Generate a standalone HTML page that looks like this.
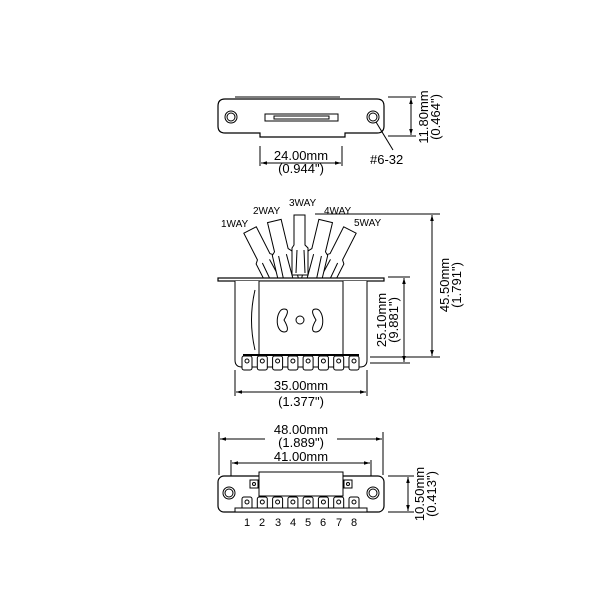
<!DOCTYPE html>
<html><head><style>body{margin:0;background:#fff}svg{display:block}</style></head><body>
<svg width="600" height="600" viewBox="0 0 600 600" xmlns="http://www.w3.org/2000/svg" font-family="Liberation Sans, sans-serif" fill="none" stroke="#000" stroke-width="1">
<defs>
<marker id="a" viewBox="0 0 10 10" refX="10" refY="5" markerWidth="6" markerHeight="6" orient="auto-start-reverse"><path d="M0,2 L10,5 L0,8z" fill="#000" stroke="none"/></marker>
<g id="lev">
<path d="M293,218 h14 v30 l3,3 v40 h-20 v-40 l3,-3z" fill="#fff"/>
<line x1="296" y1="253" x2="295" y2="290"/><line x1="304" y1="253" x2="305" y2="290"/>
</g>
<g id="lev0">
<path d="M294,215 h11 v30 l3,3 v27 h-16 v-27 l2,-3z" fill="#fff"/>
<line x1="297" y1="250" x2="296" y2="273"/><line x1="304" y1="250" x2="305" y2="273"/>
</g>
<g id="term"><rect x="-5" y="0" width="10" height="14" rx="2" fill="#fff"/><circle cx="0" cy="5" r="2"/></g>
</defs>
<!-- TOP VIEW -->
<path d="M225,99 H377 Q384,99 384,106 V126 Q384,133 377,133 H345 V137 H260 V133 H225 Q218,133 218,126 V106 Q218,99 225,99Z" stroke-width="1.2"/>
<line x1="235" y1="97" x2="340" y2="97"/>
<circle cx="231" cy="117" r="6"/><circle cx="231" cy="117" r="4"/>
<circle cx="373" cy="117" r="6"/><circle cx="373" cy="117" r="4"/>
<rect x="265" y="114" width="73" height="7"/><rect x="274" y="116" width="55" height="3"/>
<line x1="376" y1="122" x2="393" y2="150"/>
<text x="370" y="164" font-size="13" fill="#000" stroke="none">#6-32</text>
<line x1="260" y1="146" x2="260" y2="166"/><line x1="342" y1="146" x2="342" y2="166"/>
<line x1="261" y1="163" x2="341" y2="163" marker-start="url(#a)" marker-end="url(#a)"/>
<text x="301" y="160" font-size="13" text-anchor="middle" fill="#000" style="paint-order:stroke" stroke="#fff" stroke-width="3">24.00mm</text>
<text x="301" y="173" font-size="13" text-anchor="middle" fill="#000" stroke="none">(0.944")</text>
<line x1="388" y1="97" x2="416" y2="97"/><line x1="388" y1="136" x2="416" y2="136"/>
<line x1="411" y1="98" x2="411" y2="135" marker-start="url(#a)" marker-end="url(#a)"/>
<text transform="translate(428,117) rotate(-90)" font-size="13" text-anchor="middle" fill="#000" stroke="none">11.80mm</text>
<text transform="translate(440,117) rotate(-90)" font-size="13" text-anchor="middle" fill="#000" stroke="none">(0.464")</text>
<!-- MIDDLE VIEW -->
<use href="#lev" transform="rotate(-27 300 328)"/>
<use href="#lev" transform="rotate(27 300 328)"/>
<use href="#lev" transform="rotate(-13.5 300 328)"/>
<use href="#lev" transform="rotate(13.5 300 328)"/>
<use href="#lev0"/>
<text x="221" y="227" font-size="10" fill="#000" stroke="none">1WAY</text>
<text x="253" y="214" font-size="10" fill="#000" stroke="none">2WAY</text>
<text x="289" y="206" font-size="10" fill="#000" stroke="none">3WAY</text>
<text x="324" y="214" font-size="10" fill="#000" stroke="none">4WAY</text>
<text x="354" y="226" font-size="10" fill="#000" stroke="none">5WAY</text>
<rect x="218" y="278" width="166" height="3" fill="#fff" stroke-width="1.2"/>
<path d="M235,281 V360 Q235,367 242,367 H360 Q367,367 367,360 V281" fill="#fff"/>
<rect x="259" y="281" width="84" height="74" fill="#fff"/>
<path d="M255,290 Q248,320 255,350"/>
<path d="M284,309 C276,309 274,331 284,332 C290,332 287,325 284,320 C287,315 290,309 284,309Z"/>
<path d="M316,309 C324,309 326,331 316,332 C310,332 313,325 316,320 C313,315 310,309 316,309Z"/>
<circle cx="300" cy="320" r="4"/>
<line x1="243" y1="355" x2="359" y2="355" stroke-width="2"/>
<g id="ts"><use href="#term" x="247" y="356"/><use href="#term" x="262.3" y="356"/><use href="#term" x="277.6" y="356"/><use href="#term" x="292.9" y="356"/><use href="#term" x="308.1" y="356"/><use href="#term" x="323.4" y="356"/><use href="#term" x="338.7" y="356"/><use href="#term" x="354" y="356"/></g>
<line x1="315" y1="214" x2="440" y2="214"/><line x1="370" y1="357" x2="440" y2="357"/>
<line x1="432" y1="215" x2="432" y2="356" marker-start="url(#a)" marker-end="url(#a)"/>
<text transform="translate(449,285) rotate(-90)" font-size="13" text-anchor="middle" fill="#000" stroke="none">45.50mm</text>
<text transform="translate(461,285) rotate(-90)" font-size="13" text-anchor="middle" fill="#000" stroke="none">(1.791")</text>
<line x1="388" y1="277" x2="410" y2="277"/><line x1="370" y1="363" x2="410" y2="363"/>
<line x1="404" y1="278" x2="404" y2="362" marker-start="url(#a)" marker-end="url(#a)"/>
<text transform="translate(386,320) rotate(-90)" font-size="13" text-anchor="middle" fill="#000" stroke="none">25.10mm</text>
<text transform="translate(398,320) rotate(-90)" font-size="13" text-anchor="middle" fill="#000" stroke="none">(9.881")</text>
<line x1="235" y1="370" x2="235" y2="396"/><line x1="367" y1="370" x2="367" y2="396"/>
<line x1="236" y1="392" x2="366" y2="392" marker-start="url(#a)" marker-end="url(#a)"/>
<text x="301" y="390" font-size="13" text-anchor="middle" fill="#000" stroke="#fff" stroke-width="3" style="paint-order:stroke">35.00mm</text>
<text x="301" y="406" font-size="13" text-anchor="middle" fill="#000" stroke="none">(1.377")</text>
<!-- BOTTOM VIEW -->
<line x1="219" y1="432" x2="219" y2="475"/><line x1="383" y1="432" x2="383" y2="475"/>
<line x1="220" y1="439" x2="382" y2="439" marker-start="url(#a)" marker-end="url(#a)"/>
<rect x="265" y="425" width="72" height="24" fill="#fff" stroke="none"/>
<text x="301" y="434" font-size="13" text-anchor="middle" fill="#000" stroke="none">48.00mm</text>
<text x="301" y="447" font-size="13" text-anchor="middle" fill="#000" stroke="none">(1.889")</text>
<line x1="231" y1="460" x2="231" y2="480"/><line x1="371" y1="460" x2="371" y2="480"/>
<line x1="232" y1="463" x2="370" y2="463" marker-start="url(#a)" marker-end="url(#a)"/>
<text x="301" y="461" font-size="13" text-anchor="middle" fill="#000" stroke="#fff" stroke-width="2" style="paint-order:stroke">41.00mm</text>
<rect x="218" y="476" width="166" height="36" rx="6" fill="#fff" stroke-width="1.2"/>
<rect x="259" y="472" width="84" height="24" fill="#fff"/>
<circle cx="229" cy="493" r="6"/><circle cx="229" cy="493" r="4"/>
<circle cx="373" cy="493" r="6"/><circle cx="373" cy="493" r="4"/>
<rect x="250" y="480" width="8" height="8"/><circle cx="254" cy="484" r="1.5"/>
<rect x="344" y="480" width="8" height="8"/><circle cx="348" cy="484" r="1.5"/>
<g transform="translate(0,141)"><use href="#ts"/></g>
<rect x="235" y="508" width="132" height="4" fill="#fff"/>
<g font-size="11" fill="#000" stroke="none" text-anchor="middle">
<text x="247" y="526">1</text><text x="262" y="526">2</text><text x="278" y="526">3</text><text x="293" y="526">4</text><text x="308" y="526">5</text><text x="323" y="526">6</text><text x="339" y="526">7</text><text x="354" y="526">8</text></g>
<line x1="388" y1="476" x2="414" y2="476"/><line x1="388" y1="512" x2="414" y2="512"/>
<line x1="408" y1="477" x2="408" y2="511" marker-start="url(#a)" marker-end="url(#a)"/>
<text transform="translate(424,494) rotate(-90)" font-size="13" text-anchor="middle" fill="#000" stroke="none">10.50mm</text>
<text transform="translate(436,494) rotate(-90)" font-size="13" text-anchor="middle" fill="#000" stroke="none">(0.413")</text>
</svg>
</body></html>
